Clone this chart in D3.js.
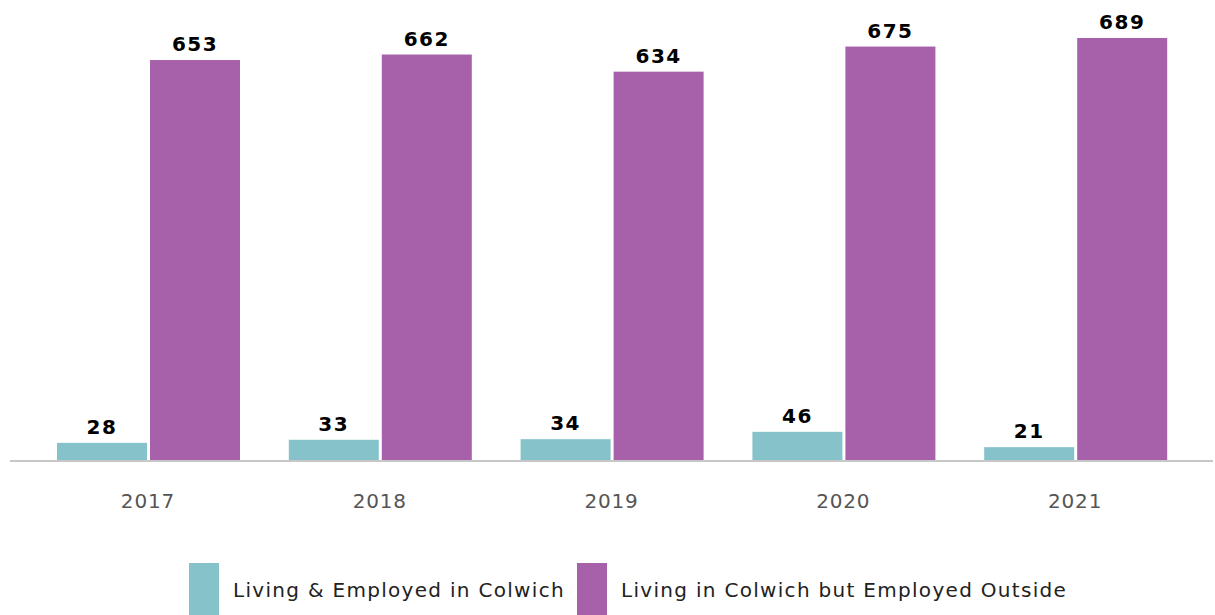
<!DOCTYPE html>
<html>
<head>
<meta charset="utf-8">
<script src="https://cdn.jsdelivr.net/npm/d3@7"></script>
<style>
html,body{margin:0;padding:0;background:#fff;}
svg{display:block;}
</style>
</head>
<body>
<svg id="chart" width="1215" height="615"></svg>
<script>
const years = ["2017", "2018", "2019", "2020", "2021"];
const seriesNames = ["Living & Employed in Colwich", "Living in Colwich but Employed Outside"];
const livingEmployed = [28, 33, 34, 46, 21];
const employedOutside = [653, 662, 634, 675, 689];
const colors = ["#86c2c9", "#a661aa"];

const svg = d3.select("#chart");
const baseY = 460;

const x = d3.scaleBand().domain(years).range([32, 1191]).paddingInner(0).paddingOuter(0);
const x1 = d3.scaleBand().domain([0, 1]).range([25, 208]).paddingInner(0.0323).paddingOuter(0);
const y = d3.scaleLinear().domain([0, 751]).range([baseY, 0]);

const data = years.map((yr, i) => ({year: yr, vals: [livingEmployed[i], employedOutside[i]]}));

const g = svg.append("g");
const groups = g.selectAll("g.grp").data(data).join("g")
  .attr("transform", d => `translate(${x(d.year)},0)`);

groups.selectAll("rect").data(d => d.vals.map((v, k) => ({v, k}))).join("rect")
  .attr("x", d => x1(d.k))
  .attr("width", x1.bandwidth())
  .attr("y", d => y(d.v))
  .attr("height", d => baseY - y(d.v))
  .attr("fill", d => colors[d.k]);

groups.selectAll("text.val").data(d => d.vals.map((v, k) => ({v, k}))).join("text")
  .attr("class", "val")
  .attr("x", d => x1(d.k) + x1.bandwidth() / 2)
  .attr("y", d => y(d.v) - 9)
  .attr("text-anchor", "middle")
  .attr("font-family", "DejaVu Sans")
  .attr("font-weight", "bold")
  .attr("font-size", 20)
  .attr("letter-spacing", 1.5)
  .attr("fill", "#000")
  .text(d => d.v);

// axis
const axis = d3.axisBottom(x).tickSize(0).tickPadding(0);
const ax = svg.append("g").attr("transform", `translate(0,${baseY})`).call(axis);
ax.select(".domain").remove();
ax.selectAll("text")
  .attr("y", 48)
  .attr("dy", 0)
  .attr("font-family", "DejaVu Sans")
  .attr("font-size", 20)
  .attr("letter-spacing", 0.8)
  .attr("fill", "#555");
svg.append("line")
  .attr("x1", 10).attr("x2", 1213)
  .attr("y1", baseY + 1).attr("y2", baseY + 1)
  .attr("stroke", "#c8c8c8").attr("stroke-width", 2);

// legend
const legendX = [189, 577];
const leg = svg.append("g");
seriesNames.forEach((name, k) => {
  leg.append("rect").attr("x", legendX[k]).attr("y", 563).attr("width", 30).attr("height", 52).attr("fill", colors[k]);
  leg.append("text").attr("x", legendX[k] + 44).attr("y", 597)
    .attr("font-family", "DejaVu Sans").attr("font-size", 20).attr("letter-spacing", 1.3)
    .attr("fill", "#222").text(name);
});
</script>
</body>
</html>
